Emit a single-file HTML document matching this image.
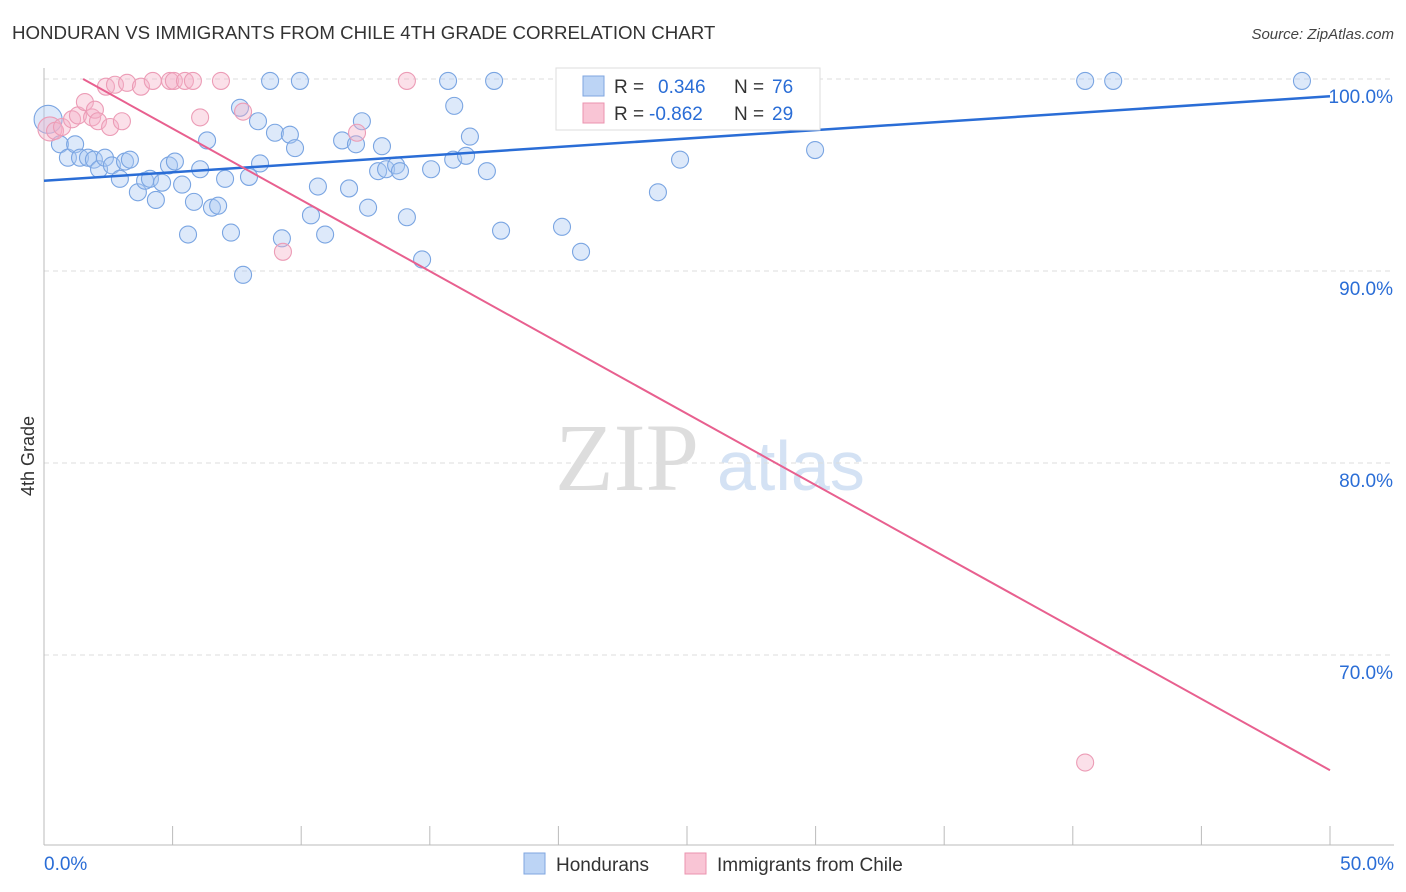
<!DOCTYPE html>
<html><head><meta charset="utf-8"><style>
body{margin:0;background:#fff;font-family:"Liberation Sans",sans-serif;}
#wrap{position:relative;width:1406px;height:892px;overflow:hidden;}
svg text{font-family:"Liberation Sans",sans-serif;}
</style></head><body>
<div id="wrap">
<svg id="chart" width="1406" height="892">
<text x="12" y="39" font-size="18.7" fill="#333">HONDURAN VS IMMIGRANTS FROM CHILE 4TH GRADE CORRELATION CHART</text>
<text x="1394" y="39" font-size="15" fill="#444" text-anchor="end" font-style="italic">Source: ZipAtlas.com</text>
<text x="555" y="490" font-size="96" fill="#ddd" style="font-family:'Liberation Serif',serif">ZIP</text>
<text x="717" y="490" font-size="70" fill="#d4e2f4">atlas</text>
<text transform="translate(34,456) rotate(-90)" font-size="18" fill="#333" text-anchor="middle">4th Grade</text>
<g id="grid"></g><g id="pts"></g><g id="lines"></g>
<rect x="556" y="68" width="264" height="62" fill="#fff" stroke="#ddd"/>
<rect x="583" y="76" width="21" height="20" fill="#bcd4f5" stroke="#7fa6e0"/>
<rect x="583" y="103" width="21" height="20" fill="#f9c5d5" stroke="#eb93af"/>
<text x="614" y="93" font-size="19" fill="#333">R =</text>
<text x="658" y="93" font-size="19" fill="#2a6dd6">0.346</text>
<text x="734" y="93" font-size="19" fill="#333">N =</text>
<text x="772" y="93" font-size="19" fill="#2a6dd6">76</text>
<text x="614" y="120" font-size="19" fill="#333">R =</text>
<text x="649" y="120" font-size="19" fill="#2a6dd6">-0.862</text>
<text x="734" y="120" font-size="19" fill="#333">N =</text>
<text x="772" y="120" font-size="19" fill="#2a6dd6">29</text>
<rect x="524" y="853" width="21" height="21" fill="#bcd4f5" stroke="#7fa6e0"/>
<text x="556" y="871" font-size="19" fill="#333">Hondurans</text>
<rect x="685" y="853" width="21" height="21" fill="#f9c5d5" stroke="#eb93af"/>
<text x="717" y="871" font-size="19" fill="#333">Immigrants from Chile</text>
</svg></div>
<script>
const yTicks=[100,90,80,70];
const yTickLabels=["100.0%","90.0%","80.0%","70.0%"];
const xTickLabels=["0.0%","50.0%"];
const bluX=[0.16,0.62,0.93,1.21,1.40,1.71,1.94,2.14,2.37,2.64,2.95,3.15,3.34,3.65,3.93,4.12,4.35,4.59,4.86,5.09,5.37,5.60,5.83,6.07,6.34,6.53,6.77,7.04,7.27,7.62,7.74,7.97,8.32,8.40,8.79,8.98,9.25,9.56,9.76,9.95,10.38,10.65,10.93,11.59,11.86,12.13,12.36,12.60,12.99,13.14,13.30,13.69,13.84,14.11,14.70,15.05,15.71,15.95,15.91,16.41,16.56,17.22,17.50,17.77,20.14,20.88,23.87,24.73,25.04,28.15,29.98,40.48,41.57,48.91];
const bluY=[97.9,96.6,95.9,96.6,95.9,95.9,95.8,95.3,95.9,95.5,94.8,95.7,95.8,94.1,94.7,94.8,93.7,94.6,95.5,95.7,94.5,91.9,93.6,95.3,96.8,93.3,93.4,94.8,92.0,98.5,89.8,94.9,97.8,95.6,99.9,97.2,91.7,97.1,96.4,99.9,92.9,94.4,91.9,96.8,94.3,96.6,97.8,93.3,95.2,96.5,95.3,95.5,95.2,92.8,90.6,95.3,99.9,98.6,95.8,96.0,97.0,95.2,99.9,92.1,92.3,91.0,94.1,95.8,99.9,99.9,96.3,99.9,99.9,99.9];
const pnkX=[0.23,0.43,0.70,1.09,1.32,1.59,1.87,1.98,2.10,2.41,2.57,2.76,3.03,3.23,3.77,4.23,4.90,5.05,5.48,5.79,6.07,6.88,7.74,9.29,12.17,14.11,40.48];
const pnkY=[97.4,97.3,97.5,97.9,98.1,98.8,98.0,98.4,97.8,99.6,97.5,99.7,97.8,99.8,99.6,99.9,99.9,99.9,99.9,99.9,98.0,99.9,98.3,91.0,97.2,99.9,64.4];
const bluTrend=[0,94.7,50,99.1];
const pnkTrend=[1.52,100,50,64.0];
const NS="http://www.w3.org/2000/svg";
const X=v=>44+v/50*1286, Y=v=>79+(100-v)*19.2;
function mk(tag,attrs,parent){const e=document.createElementNS(NS,tag);for(const k in attrs)e.setAttribute(k,attrs[k]);document.getElementById(parent).appendChild(e);return e;}
yTicks.forEach((t,i)=>{
 const g=mk('line',{x1:44,x2:1394,y1:Y(t),y2:Y(t),stroke:'#ddd','stroke-dasharray':'5,4'},'grid');
 
 
 const l=mk('text',{x:1393,y:Y(t)+24,'font-size':19,fill:'#2a6dd6','text-anchor':'end'},'grid');l.textContent=yTickLabels[i];
 
 
});
const ax=mk('line',{x1:44,x2:1394,y1:845,y2:845,stroke:'#bbb'},'grid');


const ay=mk('line',{x1:44,x2:44,y1:68,y2:845,stroke:'#bbb'},'grid');


for(let i=0;i<=10;i++){const tk=mk('line',{x1:X(i*5),x2:X(i*5),y1:826,y2:845,stroke:'#bbb'},'grid');
 
 }
[[0,'start',44],[50,'end',1394]].forEach((a,i)=>{const t=mk('text',{x:a[2],y:870,'font-size':19,fill:'#2a6dd6','text-anchor':a[1]},'grid');t.textContent=xTickLabels[i];
 
 });
bluX.forEach((x,i)=>{const c=mk('circle',{cx:X(x),cy:Y(bluY[i]),r:i==0?14:8.5,fill:'rgba(170,200,242,0.4)',stroke:'#7aa5e2','stroke-width':1.1},'pts');
 
 });
pnkX.forEach((x,i)=>{const c=mk('circle',{cx:X(x),cy:Y(pnkY[i]),r:i==0?12:8.5,fill:'rgba(246,178,200,0.4)',stroke:'#ec9cb6','stroke-width':1.1},'pts');
 
 });
const bl=mk('line',{x1:X(bluTrend[0]),y1:Y(bluTrend[1]),x2:X(bluTrend[2]),y2:Y(bluTrend[3]),stroke:'#2a6dd6','stroke-width':2.5},'lines');


const pl=mk('line',{x1:X(pnkTrend[0]),y1:Y(pnkTrend[1]),x2:X(pnkTrend[2]),y2:Y(pnkTrend[3]),stroke:'#e8608f','stroke-width':2},'lines');


</script></body></html>
